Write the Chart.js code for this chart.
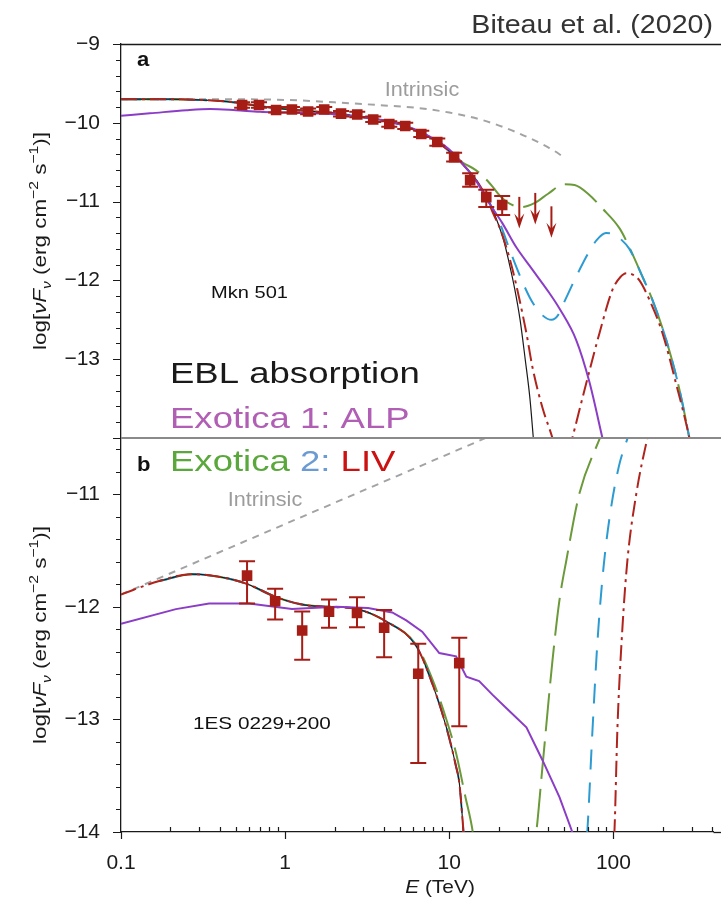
<!DOCTYPE html>
<html>
<head>
<meta charset="utf-8">
<script src="https://cdn.jsdelivr.net/npm/chart.js@4.4.1/dist/chart.umd.min.js"></script>
<style>
  html, body { margin: 0; padding: 0; background: #fff; }
  canvas { display: block; }
</style>
</head>
<body>
<canvas id="sed" width="721" height="899"></canvas>
<script>
// axis ticks
const xTickValues = [0.1, 1, 10, 100];
const xTickLabels = ['0.1', '1', '10', '100'];
const yTopTicks = [-13, -12, -11, -10, -9];
const yTopLabels = ['−13', '−12', '−11', '−10', '−9'];
const yBotTicks = [-14, -13, -12, -11];
const yBotLabels = ['−14', '−13', '−12', '−11'];

// panel a: Mkn 501 data (E in TeV, log flux)
const mknE = [0.547, 0.693, 0.881, 1.10, 1.38, 1.73, 2.19, 2.75, 3.44, 4.31, 5.39, 6.75, 8.45, 10.7, 13.4, 16.8, 21.0];
const mknF = [-9.775, -9.775, -9.838, -9.832, -9.857, -9.832, -9.883, -9.895, -9.959, -10.016, -10.041, -10.143, -10.244, -10.435, -10.727, -10.943, -11.043];
const mknHi = [-9.74, -9.74, -9.80, -9.80, -9.82, -9.80, -9.85, -9.86, -9.92, -9.98, -10.00, -10.10, -10.20, -10.38, -10.64, -10.85, -10.93];
const mknLo = [-9.81, -9.81, -9.87, -9.87, -9.89, -9.87, -9.92, -9.93, -9.99, -10.05, -10.08, -10.18, -10.29, -10.49, -10.81, -11.07, -11.17];
const mknUlE = [26.7, 33.4, 41.9];
const mknUlF = [-10.94, -10.89, -11.06];

// panel b: 1ES 0229+200 data
const esE = [0.586, 0.869, 1.27, 1.85, 2.74, 4.01, 6.47, 11.5];
const esF = [-11.723, -11.950, -12.210, -12.042, -12.053, -12.186, -12.594, -12.500];
const esHi = [-11.594, -11.840, -12.042, -11.935, -11.915, -12.027, -12.328, -12.275];
const esLo = [-11.971, -12.113, -12.470, -12.186, -12.181, -12.447, -13.387, -13.061];

// panel a models
const intrTopE = [0.1, 0.3, 1, 2, 4, 6.3, 10, 15.9, 25.6, 40.7, 50];
const intrTopF = [-9.70, -9.70, -9.71, -9.74, -9.78, -9.81, -9.87, -9.965, -10.12, -10.32, -10.435];
const eblTopE = [0.1, 0.2, 0.3, 0.44, 0.77, 1.2, 2, 2.8, 4, 5, 6.3, 8, 10, 12, 14.5, 16.8, 18.5, 20, 21.5, 23, 25, 27, 29, 31, 32.5, 34];
const eblTopF = [-9.70, -9.70, -9.71, -9.73, -9.80, -9.84, -9.88, -9.92, -9.97, -10.02, -10.10, -10.21, -10.36, -10.52, -10.72, -10.94, -11.12, -11.30, -11.50, -11.75, -12.10, -12.50, -13.00, -13.50, -14.00, -14.50];
const alpTopE = [0.1, 0.15, 0.25, 0.35, 0.5, 0.7, 1, 2, 3, 4, 5, 6.3, 8, 10, 12.5, 15, 17, 21, 25.6, 32, 40.7, 47, 59.4, 71.4, 85.7, 95];
const alpTopF = [-9.91, -9.88, -9.84, -9.825, -9.84, -9.86, -9.87, -9.89, -9.93, -9.97, -10.02, -10.09, -10.20, -10.34, -10.56, -10.78, -10.98, -11.27, -11.58, -11.86, -12.16, -12.36, -12.76, -13.29, -14.00, -14.40];
const livGTopE = [0.1, 0.2, 0.3, 0.44, 0.77, 1.2, 2, 2.8, 4, 5, 6.3, 8, 10, 12, 14.5, 16.8, 18.5, 20.2, 23, 27.5, 33, 40, 50, 58, 70, 85, 109, 125, 150, 173, 210, 250, 290, 320];
const livGTopF = [-9.70, -9.70, -9.71, -9.73, -9.80, -9.84, -9.88, -9.92, -9.97, -10.02, -10.10, -10.21, -10.36, -10.50, -10.60, -10.72, -10.82, -10.92, -11.02, -11.07, -11.02, -10.90, -10.78, -10.79, -10.90, -11.08, -11.34, -11.58, -11.95, -12.25, -12.76, -13.35, -14.00, -14.50];
const livBTopE = [0.1, 0.2, 0.3, 0.44, 0.77, 1.2, 2, 2.8, 4, 5, 6.3, 8, 10, 12, 14.5, 16.8, 18.5, 20.2, 24.2, 30.8, 36, 42, 46, 50, 56, 62, 70, 79, 90, 100, 110, 125, 150, 173, 210, 250, 290, 320];
const livBTopF = [-9.70, -9.70, -9.71, -9.73, -9.80, -9.84, -9.88, -9.92, -9.97, -10.02, -10.10, -10.21, -10.36, -10.52, -10.72, -10.94, -11.10, -11.26, -11.70, -12.21, -12.42, -12.50, -12.44, -12.28, -12.06, -11.87, -11.66, -11.49, -11.40, -11.41, -11.47, -11.60, -11.95, -12.25, -12.76, -13.35, -14.00, -14.50];
const livRTopE = [0.1, 0.2, 0.3, 0.44, 0.77, 1.2, 2, 2.8, 4, 5, 6.3, 8, 10, 12, 14.5, 16.8, 18.5, 20.7, 24.2, 29.5, 32.1, 37, 42.5, 47, 51, 56.2, 68.4, 82.2, 98.6, 110, 120, 132, 144, 166, 199, 240, 290, 320];
const livRTopF = [-9.70, -9.70, -9.71, -9.73, -9.80, -9.84, -9.88, -9.92, -9.97, -10.02, -10.10, -10.21, -10.36, -10.52, -10.72, -10.94, -11.15, -11.38, -11.85, -12.67, -13.10, -13.62, -14.00, -14.35, -14.35, -14.00, -13.30, -12.67, -12.12, -11.96, -11.91, -11.93, -12.00, -12.25, -12.67, -13.30, -14.00, -14.50];

// panel b models
const intrBotE = [0.1, 30];
const intrBotF = [-11.89, -10.34];
const eblBotE = [0.171, 0.27, 0.456, 0.595, 0.87, 1.27, 1.85, 2.74, 4.13, 6.3, 7.87, 9.6, 11.0, 11.5, 12.2, 13];
const eblBotF = [-11.77, -11.71, -11.75, -11.80, -11.91, -11.98, -12.00, -12.02, -12.13, -12.35, -12.68, -13.07, -13.42, -13.56, -14.00, -14.60];
const alpBotE = [0.1, 0.216, 0.344, 0.604, 1.10, 2.05, 3.2, 4.49, 5.47, 6.84, 8.69, 11.0, 12.7, 15.2, 18.3, 22.3, 29.5, 36.9, 46.9, 55.5, 62];
const alpBotF = [-12.15, -12.02, -11.97, -11.97, -12.02, -12.00, -12.01, -12.05, -12.12, -12.22, -12.41, -12.44, -12.62, -12.66, -12.78, -12.90, -13.07, -13.36, -13.69, -13.98, -14.20];
const livGBotE = [0.171, 0.27, 0.456, 0.595, 0.87, 1.27, 1.85, 2.74, 4.13, 6.3, 7.87, 9.6, 11.0, 12.5, 13.9, 15, 20, 28, 33.9, 36.9, 42.5, 46.9, 51.6, 62.1, 82.2, 100];
const livGBotF = [-11.77, -11.71, -11.75, -11.80, -11.91, -11.98, -12.00, -12.02, -12.13, -12.34, -12.64, -13.00, -13.30, -13.68, -14.00, -14.40, -15.00, -14.80, -14.00, -13.43, -12.48, -11.94, -11.59, -10.99, -10.51, -10.20];
const livBBotE = [0.171, 0.27, 0.456, 0.595, 0.87, 1.27, 1.85, 2.74, 4.13, 6.3, 7.87, 9.6, 11.0, 11.5, 12.2, 13, 30, 60, 69.3, 74.5, 80, 87, 96, 108, 122, 135];
const livBBotF = [-11.77, -11.71, -11.75, -11.80, -11.91, -11.98, -12.00, -12.02, -12.13, -12.35, -12.68, -13.07, -13.42, -13.56, -14.00, -14.60, -16.00, -15.00, -14.00, -13.10, -12.30, -11.65, -11.15, -10.75, -10.50, -10.30];
const livRBotE = [0.1, 0.171, 0.27, 0.456, 0.595, 0.87, 1.27, 1.85, 2.74, 4.13, 6.3, 7.87, 9.6, 11.0, 11.5, 12.2, 13, 40, 90, 101.4, 105.8, 113.5, 121.6, 138, 161, 180];
const livRBotF = [-11.89, -11.77, -11.71, -11.75, -11.80, -11.91, -11.98, -12.00, -12.02, -12.13, -12.35, -12.68, -13.07, -13.42, -13.56, -14.00, -14.60, -16.00, -15.00, -14.00, -13.07, -12.18, -11.59, -10.99, -10.50, -10.20];

const FONT = "'Liberation Sans', Arial, sans-serif";
const dataRed = '#a61d16';
const cGray = '#a3a3a3', cBlack = '#1a1a1a', cPurple = '#8b3dc6';
const cGreen = '#6b9a3a', cBlue = '#2b9bd2', cRed = '#b0241e';

function pts(E, F) {
    return E.map((e, i) => ({ x: e, y: F[i] }));
}

function curve(E, F, axis, color, width, dash, tension) {
    return {
        data: pts(E, F),
        yAxisID: axis,
        borderColor: color,
        borderWidth: width,
        borderDash: dash || [],
        pointRadius: 0,
        fill: false,
        tension: tension === undefined ? 0.4 : tension,
        cubicInterpolationMode: tension === 0 ? 'default' : 'monotone'
    };
}

function markers(E, F, axis) {
    return {
        data: pts(E, F),
        yAxisID: axis,
        showLine: false,
        pointStyle: 'rect',
        pointRadius: 7.5,
        pointBackgroundColor: dataRed,
        pointBorderWidth: 0
    };
}

// keep each curve inside its own panel
const panelClip = {
    id: 'panelClip',
    beforeDatasetDraw(chart, args) {
        const ys = chart.scales[args.meta.yAxisID];
        const a = chart.chartArea;
        chart.ctx.save();
        chart.ctx.beginPath();
        chart.ctx.rect(a.left, ys.top, a.right - a.left, ys.bottom - ys.top);
        chart.ctx.clip();
    },
    afterDatasetDraw(chart) {
        chart.ctx.restore();
    }
};

function drawErrors(ctx, sx, sy, E, lo, hi) {
    ctx.beginPath();
    for (let i = 0; i < E.length; i++) {
        const x = sx(E[i]), y1 = sy(lo[i]), y2 = sy(hi[i]);
        ctx.moveTo(x, y1); ctx.lineTo(x, y2);
        ctx.moveTo(x - 8, y1); ctx.lineTo(x + 8, y1);
        ctx.moveTo(x - 8, y2); ctx.lineTo(x + 8, y2);
    }
    ctx.stroke();
}

function drawLimits(ctx, sx, sy, E, F) {
    for (let i = 0; i < E.length; i++) {
        const x = sx(E[i]), y0 = sy(F[i]), y1 = sy(F[i] - 0.4);
        ctx.beginPath();
        ctx.moveTo(x, y0); ctx.lineTo(x, y1 - 6);
        ctx.stroke();
        ctx.beginPath();
        ctx.moveTo(x - 5, y1 - 15); ctx.lineTo(x, y1); ctx.lineTo(x + 5, y1 - 15);
        ctx.lineTo(x, y1 - 9); ctx.closePath();
        ctx.fill();
    }
}

function stretchText(ctx, str, x, y, font, color, sx, align) {
    ctx.save();
    ctx.font = font;
    ctx.fillStyle = color;
    ctx.textBaseline = 'alphabetic';
    ctx.textAlign = 'left';
    const w = ctx.measureText(str).width * sx;
    let left = x;
    if (align === 'center') left = x - w / 2;
    if (align === 'right') left = x - w;
    ctx.translate(left, y);
    ctx.scale(sx, 1);
    ctx.fillText(str, 0, 0);
    ctx.restore();
    return w;
}

function drawYTitle(ctx, cx, cy) {
    const size = 19, stretch = 1.18;
    const segs = [
        ['log[', '', 1, 0], ['νF', 'italic ', 1, 0], ['ν', 'italic ', 0.7, 0.25],
        [' (erg cm', '', 1, 0], ['−2', '', 0.7, -0.42], [' s', '', 1, 0],
        ['−1', '', 0.7, -0.42], [')]', '', 1, 0]
    ];
    ctx.save();
    let total = 0;
    segs.forEach(s => {
        ctx.font = s[1] + (size * s[2]) + 'px ' + FONT;
        total += ctx.measureText(s[0]).width;
    });
    ctx.translate(cx, cy);
    ctx.rotate(-Math.PI / 2);
    ctx.scale(stretch, 1);
    ctx.fillStyle = '#1a1a1a';
    ctx.textBaseline = 'alphabetic';
    let x = -total / 2;
    segs.forEach(s => {
        ctx.font = s[1] + (size * s[2]) + 'px ' + FONT;
        ctx.fillText(s[0], x, s[3] * size);
        x += ctx.measureText(s[0]).width;
    });
    ctx.restore();
}

const decorations = {
    id: 'decorations',
    afterDatasetsDraw(chart) {
        const { ctx, scales } = chart;
        const sx = v => scales.x.getPixelForValue(v);
        const syTop = v => scales.yTop.getPixelForValue(v);
        const syBot = v => scales.yBot.getPixelForValue(v);
        ctx.save();
        ctx.strokeStyle = dataRed;
        ctx.fillStyle = dataRed;
        ctx.lineWidth = 2;
        drawErrors(ctx, sx, syTop, mknE, mknLo, mknHi);
        drawErrors(ctx, sx, syBot, esE, esLo, esHi);
        drawLimits(ctx, sx, syTop, mknUlE, mknUlF);
        ctx.restore();
    },
    afterDraw(chart) {
        const { ctx, chartArea: a, scales } = chart;
        const xs = scales.x, yt = scales.yTop, yb = scales.yBot;
        ctx.save();
        // tick marks
        ctx.strokeStyle = '#1a1a1a';
        ctx.lineWidth = 1.2;
        ctx.beginPath();
        [yt, yb].forEach(s => {
            const n = Math.floor((s.max - s.min) / 0.2 + 1e-6);
            for (let i = 0; i <= n; i++) {
                const v = s.min + i * 0.2;
                const y = Math.round(s.getPixelForValue(v)) + 0.5;
                const major = Math.abs(v - Math.round(v)) < 1e-6;
                ctx.moveTo(a.left, y);
                ctx.lineTo(a.left - (major ? 8 : 5), y);
            }
        });
        for (let k = -1; k <= 2; k++) {
            for (let m = 1; m <= 9; m++) {
                const v = m * Math.pow(10, k);
                if (v > xs.max) break;
                const x = Math.round(xs.getPixelForValue(v)) + 0.5;
                ctx.moveTo(x, a.bottom);
                ctx.lineTo(x, m === 1 ? a.bottom + 7 : a.bottom - 5);
            }
        }
        ctx.stroke();
        // frame
        ctx.lineWidth = 1.5;
        ctx.beginPath();
        ctx.moveTo(a.left - 0.5, a.top + 0.5);
        ctx.lineTo(chart.width, a.top + 0.5);
        ctx.stroke();
        ctx.lineWidth = 1.3;
        ctx.beginPath();
        ctx.moveTo(a.right, a.bottom + 0.5);
        ctx.lineTo(chart.width, a.bottom + 0.5);
        ctx.stroke();
        ctx.strokeStyle = '#8a8a8a';
        ctx.lineWidth = 2;
        ctx.beginPath();
        ctx.moveTo(a.left, yt.bottom);
        ctx.lineTo(chart.width, yt.bottom);
        ctx.stroke();

        // axis titles
        drawYTitle(ctx, 46, (yt.top + yt.bottom) / 2);
        drawYTitle(ctx, 46, (yb.top + yb.bottom) / 2);
        ctx.font = 'italic 19px ' + FONT;
        const wE = ctx.measureText('E').width;
        ctx.font = '19px ' + FONT;
        const wT = ctx.measureText(' (TeV)').width;
        let tx = 440 - (wE + wT) * 1.1 / 2;
        tx += stretchText(ctx, 'E', tx, 893, 'italic 19px ' + FONT, '#1a1a1a', 1.1);
        stretchText(ctx, ' (TeV)', tx, 893, '19px ' + FONT, '#1a1a1a', 1.1);

        // annotations
        stretchText(ctx, 'Biteau et al. (2020)', 713, 33, '26px ' + FONT, '#333333', 1.1, 'right');
        stretchText(ctx, 'a', 137, 66, 'bold 21px ' + FONT, '#111111', 1.05);
        stretchText(ctx, 'b', 137, 471, 'bold 21px ' + FONT, '#111111', 1.05);
        stretchText(ctx, 'Intrinsic', 422, 96, '20px ' + FONT, '#9c9c9c', 1.08, 'center');
        stretchText(ctx, 'Intrinsic', 265, 506, '20px ' + FONT, '#9c9c9c', 1.08, 'center');
        stretchText(ctx, 'Mkn 501', 211, 298, '17px ' + FONT, '#111111', 1.18);
        stretchText(ctx, '1ES 0229+200', 193, 729, '17px ' + FONT, '#111111', 1.22);

        const big = '29px ' + FONT, st = 1.26;
        stretchText(ctx, 'EBL absorption', 170, 383, big, '#1a1a1a', st);
        stretchText(ctx, 'Exotica 1: ALP', 170, 428, big, '#b05fb5', st);
        let lx = 170;
        lx += stretchText(ctx, 'Exotica ', lx, 471, big, '#5aa83c', st);
        lx += stretchText(ctx, '2: ', lx, 471, big, '#6b9bd2', st);
        stretchText(ctx, 'LIV', lx, 471, big, '#cc1111', st);
        ctx.restore();
    }
};

Chart.defaults.font.family = FONT;

const tickFont = { family: FONT, size: 21 };

new Chart(document.getElementById('sed'), {
    type: 'line',
    data: {
        datasets: [
            markers(mknE, mknF, 'yTop'),
            markers(esE, esF, 'yBot'),
            curve(alpTopE, alpTopF, 'yTop', cPurple, 2),
            curve(alpBotE, alpBotF, 'yBot', cPurple, 2, [], 0),
            curve(livRTopE, livRTopF, 'yTop', cRed, 2, [16, 5, 3, 5]),
            curve(livRBotE, livRBotF, 'yBot', cRed, 2, [16, 5, 3, 5]),
            curve(eblTopE, eblTopF, 'yTop', cBlack, 1.2),
            curve(eblBotE, eblBotF, 'yBot', cBlack, 1.2),
            curve(livBTopE, livBTopF, 'yTop', cBlue, 2, [20, 13]),
            curve(livBBotE, livBBotF, 'yBot', cBlue, 2, [20, 13]),
            curve(livGTopE, livGTopF, 'yTop', cGreen, 2, [38, 10]),
            curve(livGBotE, livGBotF, 'yBot', cGreen, 2, [38, 10]),
            curve(intrTopE, intrTopF, 'yTop', cGray, 2, [7, 6]),
            curve(intrBotE, intrBotF, 'yBot', cGray, 2, [7, 6], 0)
        ]
    },
    options: {
        responsive: false,
        maintainAspectRatio: false,
        devicePixelRatio: 1,
        animation: false,
        layout: { padding: { top: 44, left: 0, right: 0, bottom: 0 } },
        plugins: { legend: { display: false }, tooltip: { enabled: false } },
        scales: {
            x: {
                type: 'logarithmic',
                position: 'bottom',
                min: 0.1,
                max: 407,
                afterBuildTicks: s => { s.ticks = xTickValues.map(v => ({ value: v })); },
                afterFit: s => { s.height = 67; s.paddingRight = 0; s.paddingLeft = 0; },
                ticks: {
                    autoSkip: false,
                    maxRotation: 0,
                    padding: 11,
                    color: '#1a1a1a',
                    font: tickFont,
                    callback: v => { const i = xTickValues.indexOf(v); return i < 0 ? '' : xTickLabels[i]; }
                },
                grid: { display: false },
                border: { display: true, color: '#1a1a1a', width: 1.3 }
            },
            yBot: {
                type: 'linear',
                position: 'left',
                stack: 'panels',
                stackWeight: 1,
                weight: 1,
                min: -14,
                max: -10.5,
                afterBuildTicks: s => { s.ticks = yBotTicks.map(v => ({ value: v })); },
                afterFit: s => { s.width = 121; },
                ticks: {
                    padding: 13,
                    color: '#1a1a1a',
                    font: tickFont,
                    callback: v => { const i = yBotTicks.indexOf(v); return i < 0 ? '' : yBotLabels[i]; }
                },
                grid: { display: false },
                border: { display: true, color: '#1a1a1a', width: 1.3 }
            },
            yTop: {
                type: 'linear',
                position: 'left',
                stack: 'panels',
                stackWeight: 1,
                weight: 2,
                min: -14,
                max: -9,
                afterBuildTicks: s => { s.ticks = yTopTicks.map(v => ({ value: v })); },
                afterFit: s => { s.width = 121; },
                ticks: {
                    padding: 13,
                    color: '#1a1a1a',
                    font: tickFont,
                    callback: v => { const i = yTopTicks.indexOf(v); return i < 0 ? '' : yTopLabels[i]; }
                },
                grid: { display: false },
                border: { display: true, color: '#1a1a1a', width: 1.3 }
            }
        }
    },
    plugins: [panelClip, decorations]
});
</script>
</body>
</html>
